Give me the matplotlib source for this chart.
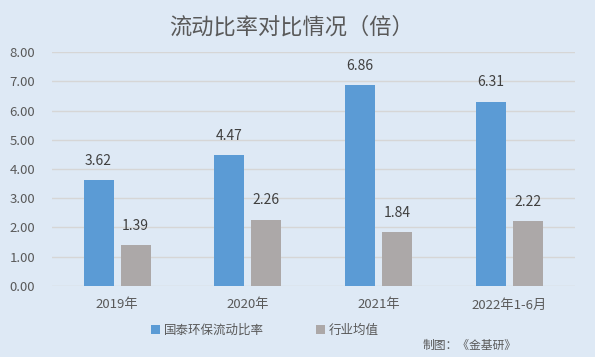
import matplotlib.pyplot as plt
import numpy as np

plt.rcParams['font.family'] = ['Noto Sans CJK SC', 'DejaVu Sans']

# 数据
years = ['2019年', '2020年', '2021年', '2022年1-6月']
guotai = [3.62, 4.47, 6.86, 6.31]
hangye = [1.39, 2.26, 1.84, 2.22]
yticks = [0, 1, 2, 3, 4, 5, 6, 7, 8]

bg = '#dee9f5'
txt = '#595959'

fig = plt.figure(figsize=(5.95, 3.57), dpi=100, facecolor=bg)
ax = fig.add_axes([0.087, 0.199, 0.879, 0.655])
ax.set_facecolor(bg)

x = np.arange(len(years))
w = 0.23
off = 0.142
b1 = ax.bar(x - off, guotai, w, color='#5b9bd5', label='国泰环保流动比率', zorder=3)
b2 = ax.bar(x + off, hangye, w, color='#aca8a8', label='行业均值', zorder=3)

for bars in (b1, b2):
    for r in bars:
        ax.annotate('%.2f' % r.get_height(), (r.get_x() + r.get_width() / 2, r.get_height()),
                    xytext=(0, 9), textcoords='offset points', ha='center', va='bottom',
                    fontsize=10, color='#404040')

ax.set_xlim(-0.5, 3.5)
ax.set_ylim(0, 8)
ax.set_yticks(yticks)
ax.set_yticklabels(['%.2f' % v for v in yticks])
ax.set_xticks(x)
ax.set_xticklabels(years)
ax.tick_params(length=0, colors=txt, labelsize=9.5)
ax.tick_params(axis='x', pad=9)
ax.tick_params(axis='y', pad=12)
ax.grid(axis='y', color='#d6d6d6', lw=1, zorder=0)
for s in ax.spines.values():
    s.set_visible(False)

fig.text(0.49, 0.925, '流动比率对比情况（倍）', ha='center', va='center', fontsize=16, color=txt)
fig.legend(loc='center', bbox_to_anchor=(0.445, 0.075), ncol=2, frameon=False,
           fontsize=9, handlelength=0.7, handleheight=0.7, handletextpad=0.3,
           columnspacing=4.2, labelcolor=txt)
fig.text(0.868, 0.033, '制图：《金基研》', ha='right', va='center', fontsize=8.5, color=txt)

plt.savefig('out.png', dpi=100, facecolor=bg)
